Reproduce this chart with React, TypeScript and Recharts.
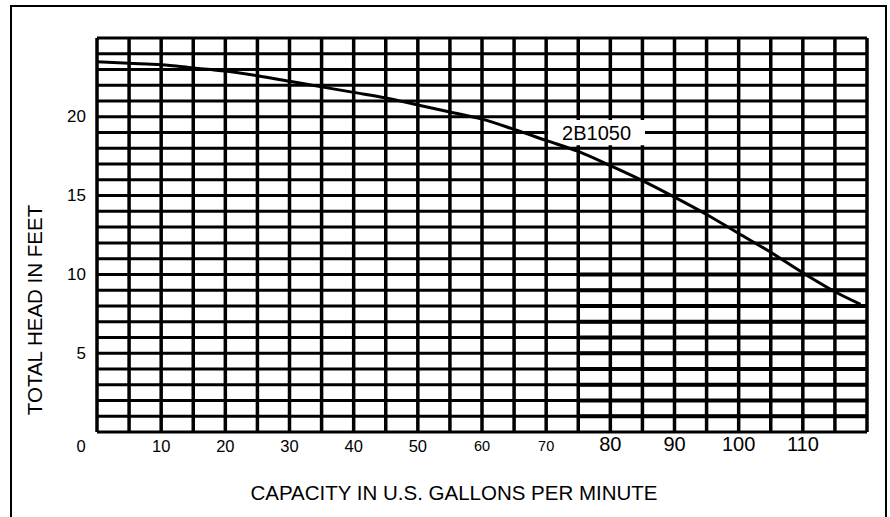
import { LineChart, Line, XAxis, YAxis, CartesianGrid, ReferenceArea, ReferenceLine, Label } from "recharts";

// pump curve for 2B1050
const CAPACITY_GPM = [0, 5, 10, 15, 20, 25, 30, 35, 40, 45, 50, 55, 60, 65, 70, 75, 80, 85, 90, 95, 100, 105, 110, 115, 119];
const HEAD_FT = [23.5, 23.4, 23.3, 23.1, 22.9, 22.6, 22.25, 21.9, 21.55, 21.2, 20.75, 20.3, 19.85, 19.2, 18.5, 17.8, 16.9, 15.95, 14.9, 13.8, 12.6, 11.4, 10.1, 8.9, 8.1];

const X_GRID = [0, 5, 10, 15, 20, 25, 30, 35, 40, 45, 50, 55, 60, 65, 70, 75, 80, 85, 90, 95, 100, 105, 110, 115, 120];
const Y_GRID = [0, 1, 2, 3, 4, 5, 6, 7, 8, 9, 10, 11, 12, 13, 14, 15, 16, 17, 18, 19, 20, 21, 22, 23, 24, 25];
const X_LABELS = [0, 10, 20, 30, 40, 50, 60, 70, 80, 90, 100, 110];
const Y_LABELS = [5, 10, 15, 20];
// heavier horizontal rules in the lower right block
const BOLD_ROWS = [1, 2, 3, 4, 5, 6, 7, 8, 9, 10];

const CURVE_NAME = "2B1050";

const data = CAPACITY_GPM.map((gpm, i) => ({ gpm, head: HEAD_FT[i] }));

const FONT = "'Liberation Sans', Arial, sans-serif";

function XTick(props: any) {
  const { x, y, payload } = props;
  const v = payload.value;
  if (!X_LABELS.includes(v)) return <g />;
  const size = v >= 80 ? 20 : v >= 60 ? 14.5 : 16.5;
  const dx = v === 0 ? -16 : 0;
  const dy = v >= 80 ? 4 : 6;
  return (
    <text x={x + dx} y={y + dy} textAnchor="middle" dominantBaseline="central" fontSize={size} fontFamily={FONT} fill="#000">
      {v}
    </text>
  );
}

function YTick(props: any) {
  const { x, y, payload } = props;
  if (!Y_LABELS.includes(payload.value)) return <g />;
  return (
    <text x={x - 3} y={y} textAnchor="end" dominantBaseline="central" fontSize={17} fontFamily={FONT} fill="#000">
      {payload.value}
    </text>
  );
}

export default function App() {
  return (
    <div style={{ position: "absolute", left: 0, top: 0, width: 890, height: 517, overflow: "hidden", background: "#fff" }}>
      <div style={{ position: "absolute", left: 10, top: 5, width: 873, height: 530, border: "2px solid #000" }} />
      <div style={{ position: "absolute", left: 0, top: 0 }}>
        <LineChart width={890} height={517} data={data} margin={{ top: 38, right: 23, bottom: 55, left: 37 }}>
          <CartesianGrid horizontal={false} vertical={true} stroke="#000" strokeWidth={3.5} />
          <CartesianGrid horizontal={true} vertical={false} stroke="#000" strokeWidth={3} />
          <XAxis
            dataKey="gpm"
            type="number"
            domain={[0, 120]}
            ticks={X_GRID}
            interval={0}
            axisLine={false}
            tickLine={false}
            height={30}
            tick={<XTick />}
          >
            <Label
              content={() => (
                <text x={454} y={492} textAnchor="middle" dominantBaseline="central" fontSize={20.5} fontFamily={FONT} fill="#000">
                  CAPACITY IN U.S. GALLONS PER MINUTE
                </text>
              )}
            />
          </XAxis>
          <YAxis
            type="number"
            domain={[0, 25]}
            ticks={Y_GRID}
            interval={0}
            axisLine={false}
            tickLine={false}
            width={60}
            tick={<YTick />}
          >
            <Label
              content={() => (
                <text
                  x={34}
                  y={310}
                  transform="rotate(-90 34 310)"
                  textAnchor="middle"
                  dominantBaseline="central"
                  fontSize={20.5}
                  fontFamily={FONT}
                  fill="#000"
                >
                  TOTAL HEAD IN FEET
                </text>
              )}
            />
          </YAxis>
          {BOLD_ROWS.map((r) => (
            <ReferenceLine
              key={r}
              segment={[{ x: 75, y: r }, { x: 120, y: r }]}
              stroke="#000"
              strokeWidth={4}
              ifOverflow="visible"
            />
          ))}
          <ReferenceArea x1={70.3} x2={85.4} y1={18.2} y2={19.8} fill="#fff" fillOpacity={1} stroke="none">
            <Label
              value={CURVE_NAME}
              position="center"
              style={{ fontSize: 20, fontFamily: FONT, fill: "#000" }}
            />
          </ReferenceArea>
          <Line
            type="monotone"
            dataKey="head"
            stroke="#000"
            strokeWidth={3}
            dot={false}
            isAnimationActive={false}
          />
        </LineChart>
      </div>
    </div>
  );
}
